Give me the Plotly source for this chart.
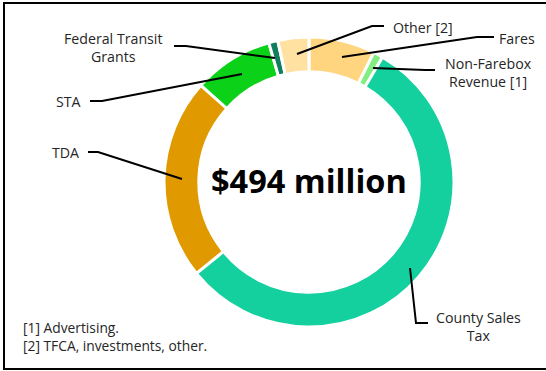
import plotly.graph_objects as go

# Revenue sources, $ millions (clockwise from 12 o'clock)
sources = ["Fares", "Non-Farebox Revenue [1]", "County Sales Tax", "TDA", "STA",
           "Federal Transit Grants", "Other [2]"]
amounts = [36.5, 5.4, 275.0, 111.0, 44.0, 5.0, 17.1]
colors = ["#FFD57F", "#80EE80", "#13D09E", "#E09A00", "#0BD119", "#0E7E5E", "#FFE1A1"]
total_label = "$494 million"
footnotes = ["[1] Advertising.", "[2] TFCA, investments, other."]

W, H = 546, 371
cx, cy, R = 309, 182, 145

fig = go.Figure()
fig.add_trace(go.Pie(
    labels=sources, values=amounts, sort=False, direction="clockwise", rotation=0,
    hole=0.76, textinfo="none", hoverinfo="label+value",
    marker=dict(colors=colors, line=dict(color="white", width=3)),
    domain=dict(x=[(cx - R) / W, (cx + R) / W], y=[(H - cy - R) / H, (H - cy + R) / H]),
    showlegend=False,
))

label_font = dict(family="Open Sans", size=14.2, color="#262626")

# label text, anchor position
labels = [
    ("Federal Transit<br>Grants", 113, 47),
    ("STA", 68, 101),
    ("TDA", 65, 152),
    ("Other [2]", 423, 27),
    ("Fares", 517, 38),
    ("Non-Farebox<br>Revenue [1]", 488, 72),
    ("County Sales<br>Tax", 478, 326),
]
annotations = []
for text, x, y in labels:
    annotations.append(dict(text=text, x=x, y=y, xref="x", yref="y", showarrow=False,
                            align="center", font=label_font, xanchor="center", yanchor="middle"))

annotations.append(dict(text=f"<b>{total_label}</b>", x=cx, y=180, xref="x", yref="y",
                        showarrow=False, font=dict(family="Open Sans", size=32.5, color="black"),
                        xanchor="center", yanchor="middle"))
annotations.append(dict(text="<br>".join(footnotes), x=21, y=336, xref="x", yref="y",
                        showarrow=False, align="left", xanchor="left", yanchor="middle",
                        font=dict(family="Open Sans", size=13.8, color="#262626")))

# leader lines from labels to slices
leaders = [
    [(174, 46), (186, 46), (275, 58)],
    [(90, 101), (102, 101), (242, 74)],
    [(88, 152), (98, 152), (182, 179)],
    [(384, 26), (372, 26), (297, 54)],
    [(494, 37), (477, 37), (342, 57)],
    [(435, 70), (425, 70), (373, 68)],
    [(428, 323), (416, 323), (410, 268)],
]
shapes = []
for pts in leaders:
    path = "M " + " L ".join(f"{x},{y}" for x, y in pts)
    shapes.append(dict(type="path", path=path, xref="x", yref="y",
                       line=dict(color="black", width=2)))

# outer frame
shapes.append(dict(type="rect", x0=4, y0=3, x1=W + 5, y1=369, xref="x", yref="y",
                   line=dict(color="black", width=2)))

fig.update_layout(
    width=W, height=H, margin=dict(l=0, r=0, t=0, b=0),
    paper_bgcolor="white", plot_bgcolor="rgba(0,0,0,0)",
    xaxis=dict(range=[0, W], visible=False, fixedrange=True),
    yaxis=dict(range=[H, 0], visible=False, fixedrange=True),
    annotations=annotations, shapes=shapes,
)

fig.write_html("out.html")
